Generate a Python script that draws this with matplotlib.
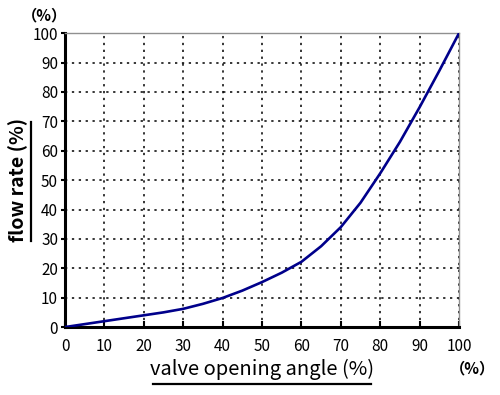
import matplotlib.pyplot as plt
from matplotlib.lines import Line2D

plt.rcParams['font.family'] = ['Noto Sans CJK JP', 'DejaVu Sans']

# valve characteristic
opening = [0, 5, 10, 15, 20, 25, 30, 35, 40, 45, 50, 55, 60, 65, 70, 75, 80, 85, 90, 95, 100]
flow = [0, 1.0, 2.0, 3.0, 4.0, 5.0, 6.2, 7.9, 9.9, 12.4, 15.3, 18.5, 22.2, 27.5, 34.0, 42.3, 52.3, 63.0, 74.8, 87.2, 100]
ticks = list(range(0, 101, 10))

fig = plt.figure(figsize=(5, 3.95), dpi=100)
ax = fig.add_axes([0.13, 0.172, 0.788, 0.744])

ax.plot(opening, flow, color='#00008b', lw=1.9, zorder=3)

ax.set_xlim(0, 100)
ax.set_ylim(0, 100)
ax.set_xticks(ticks)
ax.set_yticks(ticks)
ax.grid(True, color='black', linestyle=(0, (1.5, 3)), lw=1.1)

for side in ['left', 'bottom']:
    ax.spines[side].set_linewidth(2.2)
    ax.spines[side].set_color('black')
for side in ['top', 'right']:
    ax.spines[side].set_linewidth(1.0)
    ax.spines[side].set_color('#909090')

ax.tick_params(axis='x', direction='in', length=4, width=1.5, labelsize=11, pad=8)
ax.tick_params(axis='y', direction='out', length=3, width=1.5, labelsize=11, pad=2)

fig.text(0.525, 0.065, 'valve opening angle (%)', ha='center', va='center', fontsize=14.5)
fig.text(0.036, 0.545, 'flow rate (%)', ha='center', va='center', rotation=90,
         fontsize=14, fontweight='bold')
fig.text(0.09, 0.96, '（%）', ha='center', va='center', fontsize=11, fontweight='bold')
fig.text(0.945, 0.068, '（%）', ha='center', va='center', fontsize=11, fontweight='bold')

# underlines of the axis titles
fig.add_artist(Line2D([0.306, 0.742], [0.028, 0.028], color='black', lw=1.6))
fig.add_artist(Line2D([0.062, 0.062], [0.39, 0.69], color='black', lw=1.6))

fig.savefig('out.png', dpi=100)
